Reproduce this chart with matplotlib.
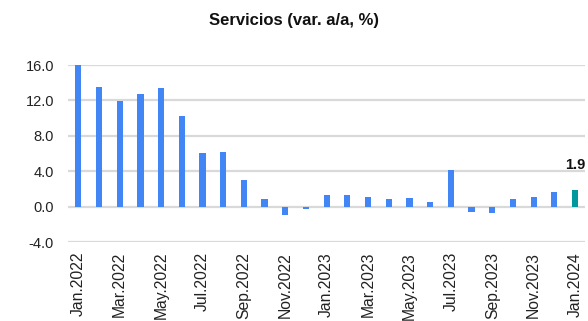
import numpy as np
import matplotlib.pyplot as plt

plt.rcParams['font.family'] = ['Liberation Sans', 'DejaVu Sans']

months = ['Jan.2022', 'Feb.2022', 'Mar.2022', 'Apr.2022', 'May.2022', 'Jun.2022',
          'Jul.2022', 'Aug.2022', 'Sep.2022', 'Oct.2022', 'Nov.2022', 'Dec.2022',
          'Jan.2023', 'Feb.2023', 'Mar.2023', 'Apr.2023', 'May.2023', 'Jun.2023',
          'Jul.2023', 'Aug.2023', 'Sep.2023', 'Oct.2023', 'Nov.2023', 'Dec.2023',
          'Jan.2024']
values = [16.1, 13.5, 11.9, 12.7, 13.4, 10.2, 6.1, 6.2, 3.0, 0.9, -0.9, -0.3,
          1.3, 1.3, 1.1, 0.9, 1.0, 0.5, 4.1, -0.6, -0.7, 0.9, 1.1, 1.7, 1.9]
yticks = [-4.0, 0.0, 4.0, 8.0, 12.0, 16.0]

blue = '#4285F4'
teal = '#00979D'

fig = plt.figure(figsize=(5.88, 3.21), dpi=100)
ax = fig.add_axes([0.1156, 0.246, 0.88, 0.5515])

x = np.arange(len(values))
colors = [blue] * (len(values) - 1) + [teal]
ax.bar(x, values, width=0.3, color=colors, zorder=3)

ax.set_xlim(-0.5, len(values) - 0.5)
ax.set_ylim(-4, 16)
ax.set_yticks(yticks)
ax.set_yticklabels(['%.1f' % v for v in yticks], fontsize=10.5, color='#222222')
ax.set_xticks(x[::2])
ax.set_xticklabels(months[::2], rotation=90, fontsize=11.3, color='#222222')
ax.tick_params(length=0)
ax.tick_params(axis='x', pad=7)
ax.tick_params(axis='y', pad=10)

ax.yaxis.grid(True, color='#d9d9d9', linewidth=1.6, zorder=0)
for s in ax.spines.values():
    s.set_visible(False)

ax.text(x[-1], values[-1] + 2.0, '%.1f' % values[-1], ha='center', va='bottom',
        fontsize=10.5, fontweight='bold', color='#111111')

fig.text(0.5, 0.935, 'Servicios (var. a/a, %)', ha='center', va='center',
         fontsize=12, fontweight='bold', color='#111111')

fig.savefig('out.png', dpi=100)
